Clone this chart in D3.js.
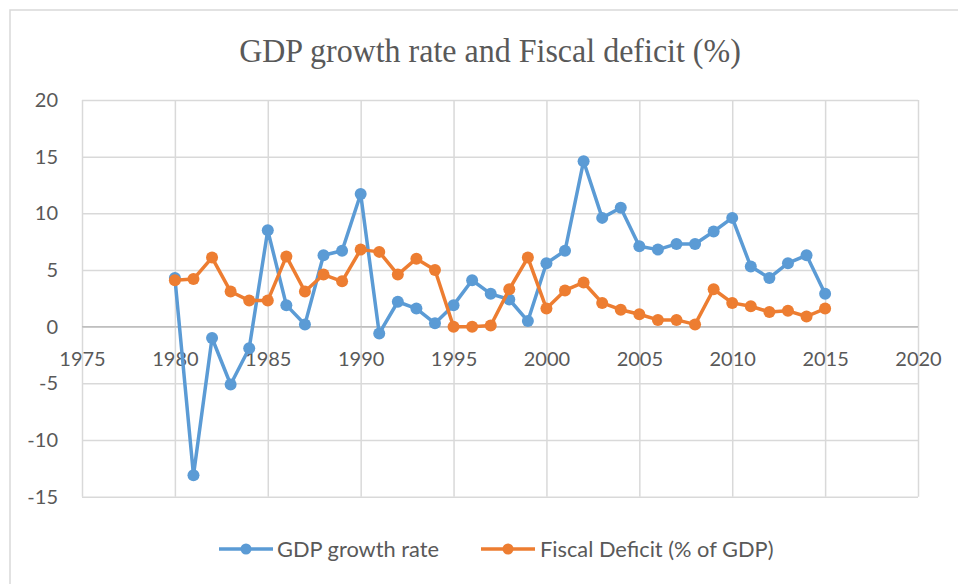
<!DOCTYPE html>
<html>
<head>
<meta charset="utf-8">
<script src="https://cdn.jsdelivr.net/npm/d3@7"></script>
<style>
  html, body { margin: 0; padding: 0; background: #fff; }
  svg { display: block; }
</style>
</head>
<body>
<svg id="chart" width="958" height="584"></svg>
<script>
const years = d3.range(1980, 2016);
const gdpGrowth = [4.3, -13.1, -1.0, -5.1, -1.9, 8.5, 1.9, 0.2, 6.3, 6.7, 11.7, -0.6,
  2.2, 1.6, 0.3, 1.9, 4.1, 2.9, 2.4, 0.5, 5.6, 6.7, 14.6, 9.6, 10.5, 7.1, 6.8,
  7.3, 7.3, 8.4, 9.6, 5.3, 4.3, 5.6, 6.3, 2.9];
const fiscalDeficit = [4.1, 4.2, 6.1, 3.1, 2.3, 2.3, 6.2, 3.1, 4.6, 4.0, 6.8, 6.6,
  4.6, 6.0, 5.0, 0.0, 0.0, 0.1, 3.3, 6.1, 1.6, 3.2, 3.9, 2.1, 1.5, 1.1, 0.6,
  0.6, 0.2, 3.3, 2.1, 1.8, 1.3, 1.4, 0.9, 1.6];
const xTicks = [1975, 1980, 1985, 1990, 1995, 2000, 2005, 2010, 2015, 2020];
const yTicks = [-15, -10, -5, 0, 5, 10, 15, 20];
const seriesNames = ["GDP growth rate", "Fiscal Deficit (% of GDP)"];
const colors = ["#5b9bd5", "#ed7d31"];
const title = "GDP growth rate and Fiscal deficit (%)";

(function () {
const svg = d3.select("#chart");
const pLeft = 82, pRight = 918, pTop = 100, pBottom = 496.7;
const x = d3.scaleLinear().domain([1975, 2020]).range([pLeft, pRight]);
const y = d3.scaleLinear().domain([-15, 20]).range([pBottom, pTop]);

// outer border
svg.append("rect").attr("x", 10).attr("y", 10).attr("width", 960).attr("height", 600)
  .attr("fill", "none").attr("stroke", "#d9d9d9").attr("stroke-width", 1.5);

// title
svg.append("text").attr("transform", "translate(490,62) scale(1,1.08)").attr("text-anchor", "middle")
  .attr("font-family", "'Liberation Serif', 'Times New Roman', serif")
  .attr("font-size", 32).attr("fill", "#595959").text(title);

// horizontal gridlines
svg.append("g").attr("transform", `translate(${pLeft},0)`)
  .call(d3.axisLeft(y).tickValues(yTicks).tickSize(-(pRight - pLeft)).tickFormat(""))
  .call(g => g.select(".domain").remove())
  .call(g => g.selectAll("line").attr("stroke", "#d9d9d9").attr("stroke-width", 1.5));

// vertical gridlines
svg.append("g").attr("transform", `translate(0,${pBottom})`)
  .call(d3.axisBottom(x).tickValues(xTicks).tickSize(-(pBottom - pTop)).tickFormat(""))
  .call(g => g.select(".domain").remove())
  .call(g => g.selectAll("line").attr("stroke", "#d9d9d9").attr("stroke-width", 1.5));

// zero axis line
svg.append("line").attr("x1", pLeft).attr("x2", pRight).attr("y1", y(0)).attr("y2", y(0))
  .attr("stroke", "#bfbfbf").attr("stroke-width", 1.5);

const font = "Lato, 'Open Sans', sans-serif";
// y labels
svg.append("g").attr("transform", `translate(${pLeft},0)`)
  .call(d3.axisLeft(y).tickValues(yTicks).tickSize(0).tickPadding(24).tickFormat(d => String(d)))
  .call(g => g.select(".domain").remove())
  .call(g => g.selectAll("text").attr("font-family", font).attr("font-size", 20).attr("fill", "#595959"));

// x labels
svg.append("g").attr("transform", `translate(0,${y(0)})`)
  .call(d3.axisBottom(x).tickValues(xTicks).tickSize(0).tickPadding(25).tickFormat(d => String(d)))
  .call(g => g.select(".domain").remove())
  .call(g => g.selectAll("text").attr("font-family", font).attr("font-size", 20).attr("fill", "#595959"));

const series = [gdpGrowth, fiscalDeficit];
const line = d3.line().x((d, i) => x(years[i])).y(d => y(d));
series.forEach((vals, s) => {
  const g = svg.append("g");
  g.append("path").datum(vals).attr("d", line).attr("fill", "none")
    .attr("stroke", colors[s]).attr("stroke-width", 3.5).attr("stroke-linejoin", "round");
  g.selectAll("circle").data(vals).join("circle")
    .attr("cx", (d, i) => x(years[i])).attr("cy", d => y(d)).attr("r", 6)
    .attr("fill", colors[s]);
});

// legend
const legendItems = [{x: 219, tx: 277}, {x: 481, tx: 540}];
legendItems.forEach((it, s) => {
  const g = svg.append("g");
  g.append("line").attr("x1", it.x).attr("x2", it.x + 54).attr("y1", 549).attr("y2", 549)
    .attr("stroke", colors[s]).attr("stroke-width", 3.5);
  g.append("circle").attr("cx", it.x + 27).attr("cy", 549).attr("r", 5.5).attr("fill", colors[s]);
  g.append("text").attr("x", it.tx).attr("y", 549).attr("dy", "0.35em")
    .attr("font-family", font).attr("font-size", 21.8).attr("fill", "#595959").text(seriesNames[s]);
});
})();
</script>
</body>
</html>
